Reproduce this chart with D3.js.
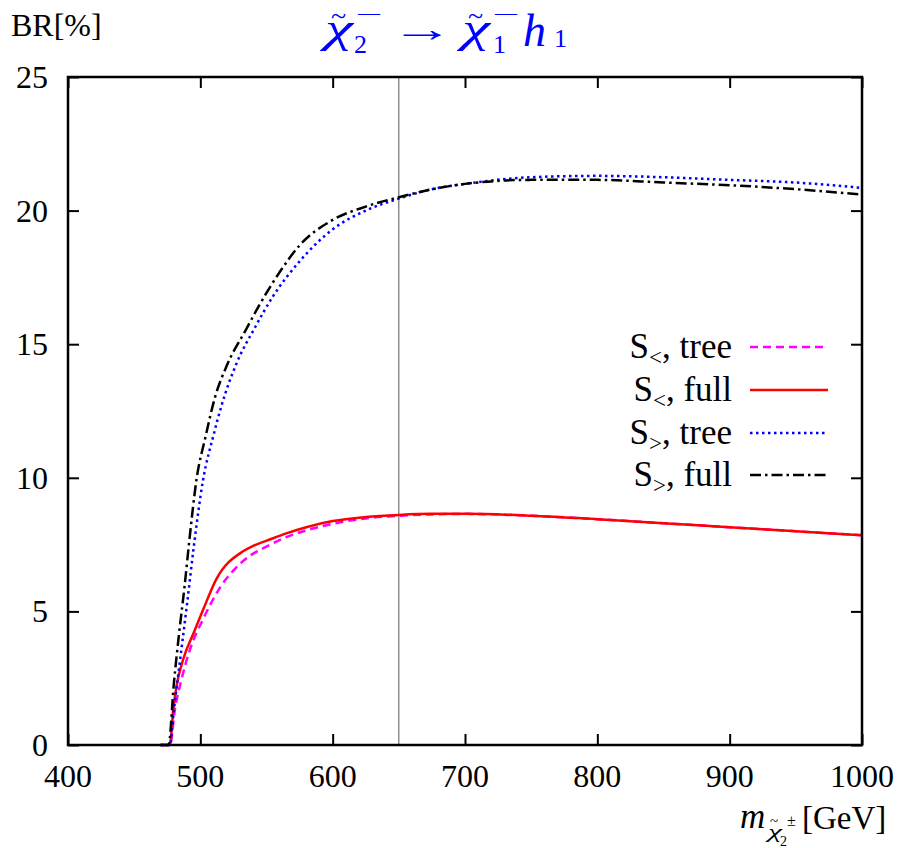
<!DOCTYPE html>
<html lang="en">
<head>
<meta charset="UTF-8">
<title>BR chi2 -> chi1 h1</title>
<script src="https://cdnjs.cloudflare.com/ajax/libs/d3/7.8.5/d3.min.js"></script>
<style>
  body { margin: 0; background: #fff; }
  text { font-family: "Liberation Serif", "DejaVu Serif", serif; }
</style>
</head>
<body>
<svg id="chart" width="905" height="848"></svg>
<script>
// masses in GeV, BR in %
var massLowTree = [470, 477, 481, 485, 492, 502, 515, 532, 553, 565, 580, 600, 625, 650, 675, 700, 750, 800, 850, 900, 950, 1000];
var brLowTree = [0, 0, 1.4, 2.3, 3.55, 4.7, 5.9, 6.87, 7.5, 7.78, 8.03, 8.28, 8.48, 8.58, 8.63, 8.65, 8.58, 8.45, 8.3, 8.15, 8.0, 7.85];

var massLowFull = [470, 477, 479.5, 482, 487, 495, 502, 512, 532, 540, 553, 565, 580, 600, 625, 650, 675, 700, 750, 800, 850, 900, 950, 1000];
var brLowFull = [0, 0, 1.3, 2.2, 3.2, 4.2, 5.05, 6.2, 7.24, 7.45, 7.7, 7.92, 8.15, 8.38, 8.53, 8.61, 8.65, 8.65, 8.58, 8.45, 8.3, 8.15, 8.0, 7.85];

var massHighTree = [470, 477, 480, 485, 490, 495, 502, 510, 516, 527.5, 541, 555, 575, 600, 625, 650, 675, 700, 750, 800, 850, 900, 950, 1000];
var brHighTree = [0, 0, 1.3, 3.3, 5.3, 7.4, 9.9, 11.6, 12.7, 14.3, 15.6, 16.8, 18.1, 19.3, 20.0, 20.45, 20.8, 21.0, 21.25, 21.3, 21.25, 21.15, 21.05, 20.85];

var massHighFull = [470, 476, 480, 484, 488, 492, 497, 504, 511, 520, 534, 545, 560, 575, 600, 625, 650, 675, 700, 750, 800, 850, 900, 950, 1000];
var brHighFull = [0, 0, 2.3, 4.2, 5.9, 7.8, 9.9, 11.55, 13.0, 14.2, 15.5, 16.5, 17.7, 18.7, 19.65, 20.15, 20.5, 20.8, 21.0, 21.15, 21.15, 21.05, 20.95, 20.8, 20.6];

var xTicks = [400, 500, 600, 700, 800, 900, 1000];
var yTicks = [0, 5, 10, 15, 20, 25];
var markMass = 650;

var seriesNames = ["tree", "full", "tree", "full"];
var seriesSub = ["<", "<", ">", ">"];

var svg = d3.select("#chart");
var pL = 68, pR = 862, pT = 77, pB = 745;

var scX = d3.scaleLinear().domain([400, 1000]).range([pL, pR]);
var scY = d3.scaleLinear().domain([0, 25]).range([pB, pT]);

var series = [
  { x: massLowTree, y: brLowTree, color: "#ff00ff", dash: "8,5" },
  { x: massLowFull, y: brLowFull, color: "#ff0000", dash: null },
  { x: massHighTree, y: brHighTree, color: "#0000ff", dash: "2.5,3.5" },
  { x: massHighFull, y: brHighFull, color: "#000000", dash: "11,4,2.5,4" }
];

// vertical marker
svg.append("line")
  .attr("x1", scX(markMass)).attr("x2", scX(markMass))
  .attr("y1", pT).attr("y2", pB)
  .attr("stroke", "#555").attr("stroke-width", 1);

var lnMkr = d3.line()
  .x(d => scX(d[0]))
  .y(d => scY(d[1]))
  .curve(d3.curveMonotoneX);

series.forEach(function(s) {
  var pts = s.x.map((m, i) => [m, s.y[i]]);
  svg.append("path")
    .attr("d", lnMkr(pts))
    .attr("fill", "none")
    .attr("stroke", s.color)
    .attr("stroke-width", 2.5)
    .attr("stroke-linejoin", "round")
    .attr("stroke-dasharray", s.dash);
});

// axes: inward ticks on all four sides
var tick = 11;
svg.append("g").attr("transform", `translate(0,${pB})`)
  .call(d3.axisTop(scX).tickValues(xTicks).tickSize(tick).tickFormat(""));
svg.append("g").attr("transform", `translate(0,${pT})`)
  .call(d3.axisBottom(scX).tickValues(xTicks).tickSize(tick).tickFormat(""));
svg.append("g").attr("transform", `translate(${pL},0)`)
  .call(d3.axisRight(scY).tickValues(yTicks).tickSize(tick).tickFormat(""));
svg.append("g").attr("transform", `translate(${pR},0)`)
  .call(d3.axisLeft(scY).tickValues(yTicks).tickSize(tick).tickFormat(""));
svg.selectAll(".domain").remove();
svg.selectAll(".tick line").attr("stroke", "#000").attr("stroke-width", 2);

svg.append("rect")
  .attr("x", pL).attr("y", pT)
  .attr("width", pR - pL).attr("height", pB - pT)
  .attr("fill", "none").attr("stroke", "#000").attr("stroke-width", 2.5);

// tick labels
svg.append("g").selectAll("text").data(xTicks).enter()
  .append("text")
  .attr("x", d => scX(d)).attr("y", pB + 42)
  .attr("text-anchor", "middle").attr("font-size", 32)
  .text(d => d);
svg.append("g").selectAll("text").data(yTicks).enter()
  .append("text")
  .attr("x", pL - 20).attr("y", d => scY(d) + 11)
  .attr("text-anchor", "end").attr("font-size", 32)
  .text(d => d);

// y label
svg.append("text").attr("x", 11).attr("y", 36)
  .attr("font-size", 32).text("BR[%]");

// small helper for placed math pieces
function piece(g, x, y, size, str, italic) {
  return g.append("text").attr("x", x).attr("y", y)
    .attr("font-size", size)
    .attr("font-style", italic ? "italic" : null)
    .text(str);
}
function stretch(t, w) {
  return t.attr("textLength", w).attr("lengthAdjust", "spacingAndGlyphs");
}

// title
var tg = svg.append("g").attr("fill", "#0000ff");
stretch(piece(tg, 325, 42, 42, "\u03C7", true), 28);
piece(tg, 331, 25, 28, "~");
piece(tg, 354, 53, 26, "2");
piece(tg, 358, 20, 22, "\u2014");
piece(tg, 0, 0, 36, "\u2192").attr("transform", "translate(391,41) scale(1.75,1)");
stretch(piece(tg, 462, 42, 42, "\u03C7", true), 28);
piece(tg, 468, 25, 28, "~");
piece(tg, 493, 53, 26, "1");
piece(tg, 495, 20, 22, "\u2014");
piece(tg, 523, 46, 46, "h", true);
piece(tg, 554, 47, 26, "1");

// x label
var xg = svg.append("g");
piece(xg, 740, 828, 35, "m", true);
stretch(piece(xg, 768, 838, 19, "\u03C7", true), 14);
piece(xg, 770, 826, 15, "~");
piece(xg, 780, 846, 14, "2");
piece(xg, 787, 826, 16, "\u00B1");
piece(xg, 802, 829, 33, "[GeV]");

// legend
var legY = [347, 390, 433, 475];
series.forEach(function(s, i) {
  var t = svg.append("text").attr("x", 732).attr("y", legY[i] + 11)
    .attr("text-anchor", "end").attr("font-size", 35);
  t.append("tspan").text("S");
  t.append("tspan").attr("font-size", 23).attr("dy", 7).text(seriesSub[i]);
  t.append("tspan").attr("dy", -7).text(", " + seriesNames[i]);
  svg.append("line")
    .attr("x1", 750).attr("x2", 828)
    .attr("y1", legY[i]).attr("y2", legY[i])
    .attr("stroke", s.color).attr("stroke-width", 2.5)
    .attr("stroke-dasharray", s.dash);
});
</script>
</body>
</html>
